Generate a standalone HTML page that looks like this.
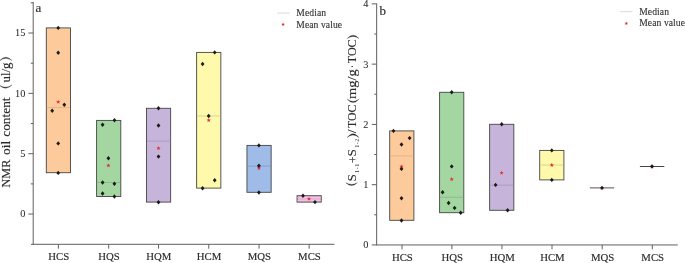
<!DOCTYPE html>
<html><head><meta charset="utf-8"><title>Box plots</title>
<style>
html,body{margin:0;padding:0;background:#fff;}
body{width:685px;height:263px;overflow:hidden;font-family:"Liberation Serif",serif;}
svg{display:block;will-change:transform;}
text{font-family:"Liberation Serif",serif;fill:#2a2a2a;stroke:#2a2a2a;stroke-width:0.16px;paint-order:stroke;}
.tk{font-size:10.3px;stroke-width:0.05px;}
.xl{font-size:10.75px;}
.pl{font-size:13px;}
.lg{font-size:9.6px;fill:#333;stroke:#333;stroke-width:0.12px;}
.yl{font-size:12.3px;}
.yl2{font-size:13.2px;stroke-width:0.1px;}
.sub{font-size:6.2px;stroke-width:0;fill:#3a3a3a;}
</style></head>
<body>
<svg width="685" height="263" viewBox="0 0 685 263">
<rect width="685" height="263" fill="#fff"/>
<g id="chartA">
<rect x="46.30" y="27.90" width="24.20" height="144.80" fill="#fdcb9b" stroke="#454545" stroke-width="0.9"/><line x1="46.80" x2="70.00" y1="107.60" y2="107.60" stroke="#dfad84" stroke-width="0.8"/>
<rect x="96.60" y="120.40" width="24.20" height="76.10" fill="#a3d6a0" stroke="#454545" stroke-width="0.9"/><line x1="97.10" x2="120.30" y1="182.50" y2="182.50" stroke="#86b783" stroke-width="0.8"/>
<rect x="146.45" y="108.30" width="24.20" height="93.80" fill="#c6b4da" stroke="#454545" stroke-width="0.9"/><line x1="146.95" x2="170.15" y1="141.10" y2="141.10" stroke="#a995bc" stroke-width="0.8"/>
<rect x="196.65" y="52.40" width="24.20" height="135.70" fill="#fff9ab" stroke="#454545" stroke-width="0.9"/><line x1="197.15" x2="220.35" y1="116.00" y2="116.00" stroke="#d2cc8c" stroke-width="0.8"/>
<rect x="246.95" y="145.40" width="24.20" height="46.90" fill="#9fbbe8" stroke="#454545" stroke-width="0.9"/><line x1="247.45" x2="270.65" y1="166.10" y2="166.10" stroke="#8099c2" stroke-width="0.8"/>
<rect x="297.05" y="195.70" width="24.20" height="6.40" fill="#e9b3dc" stroke="#454545" stroke-width="0.9"/>
<line x1="297.5" x2="320.8" y1="197.4" y2="197.4" stroke="#efc8e5" stroke-width="0.8"/>
<line x1="297.5" x2="320.8" y1="200.6" y2="200.6" stroke="#efc8e5" stroke-width="0.8"/>
<polygon points="58.20,99.65 58.76,101.13 60.34,101.20 59.10,102.19 59.52,103.72 58.20,102.85 56.88,103.72 57.30,102.19 56.06,101.20 57.64,101.13" fill="#e42d32"/>
<polygon points="108.40,163.25 108.96,164.73 110.54,164.80 109.30,165.79 109.72,167.32 108.40,166.45 107.08,167.32 107.50,165.79 106.26,164.80 107.84,164.73" fill="#e42d32"/>
<polygon points="158.50,145.95 159.06,147.43 160.64,147.50 159.40,148.49 159.82,150.02 158.50,149.15 157.18,150.02 157.60,148.49 156.36,147.50 157.94,147.43" fill="#e42d32"/>
<polygon points="208.70,118.05 209.26,119.53 210.84,119.60 209.60,120.59 210.02,122.12 208.70,121.25 207.38,122.12 207.80,120.59 206.56,119.60 208.14,119.53" fill="#e42d32"/>
<polygon points="258.90,166.05 259.46,167.53 261.04,167.60 259.80,168.59 260.22,170.12 258.90,169.25 257.58,170.12 258.00,168.59 256.76,167.60 258.34,167.53" fill="#e42d32"/>
<polygon points="309.00,196.65 309.56,198.13 311.14,198.20 309.90,199.19 310.32,200.72 309.00,199.85 307.68,200.72 308.10,199.19 306.86,198.20 308.44,198.13" fill="#e42d32"/>
<path d="M58.20 25.70L60.10 27.90L58.20 30.10L56.30 27.90Z" fill="#1a1a1a"/>
<path d="M58.20 50.60L60.10 52.80L58.20 55.00L56.30 52.80Z" fill="#1a1a1a"/>
<path d="M64.30 102.60L66.20 104.80L64.30 107.00L62.40 104.80Z" fill="#1a1a1a"/>
<path d="M52.20 108.60L54.10 110.80L52.20 113.00L50.30 110.80Z" fill="#1a1a1a"/>
<path d="M58.20 141.20L60.10 143.40L58.20 145.60L56.30 143.40Z" fill="#1a1a1a"/>
<path d="M58.20 170.70L60.10 172.90L58.20 175.10L56.30 172.90Z" fill="#1a1a1a"/>
<path d="M114.50 118.10L116.40 120.30L114.50 122.50L112.60 120.30Z" fill="#1a1a1a"/>
<path d="M102.60 122.60L104.50 124.80L102.60 127.00L100.70 124.80Z" fill="#1a1a1a"/>
<path d="M108.40 156.10L110.30 158.30L108.40 160.50L106.50 158.30Z" fill="#1a1a1a"/>
<path d="M102.60 180.30L104.50 182.50L102.60 184.70L100.70 182.50Z" fill="#1a1a1a"/>
<path d="M114.40 181.50L116.30 183.70L114.40 185.90L112.50 183.70Z" fill="#1a1a1a"/>
<path d="M102.60 191.30L104.50 193.50L102.60 195.70L100.70 193.50Z" fill="#1a1a1a"/>
<path d="M114.40 194.30L116.30 196.50L114.40 198.70L112.50 196.50Z" fill="#1a1a1a"/>
<path d="M158.50 106.10L160.40 108.30L158.50 110.50L156.60 108.30Z" fill="#1a1a1a"/>
<path d="M158.50 123.30L160.40 125.50L158.50 127.70L156.60 125.50Z" fill="#1a1a1a"/>
<path d="M158.50 154.40L160.40 156.60L158.50 158.80L156.60 156.60Z" fill="#1a1a1a"/>
<path d="M158.50 200.10L160.40 202.30L158.50 204.50L156.60 202.30Z" fill="#1a1a1a"/>
<path d="M214.70 50.20L216.60 52.40L214.70 54.60L212.80 52.40Z" fill="#1a1a1a"/>
<path d="M202.60 61.80L204.50 64.00L202.60 66.20L200.70 64.00Z" fill="#1a1a1a"/>
<path d="M208.70 113.80L210.60 116.00L208.70 118.20L206.80 116.00Z" fill="#1a1a1a"/>
<path d="M214.70 178.00L216.60 180.20L214.70 182.40L212.80 180.20Z" fill="#1a1a1a"/>
<path d="M202.60 186.00L204.50 188.20L202.60 190.40L200.70 188.20Z" fill="#1a1a1a"/>
<path d="M258.90 143.20L260.80 145.40L258.90 147.60L257.00 145.40Z" fill="#1a1a1a"/>
<path d="M258.90 163.60L260.80 165.80L258.90 168.00L257.00 165.80Z" fill="#1a1a1a"/>
<path d="M258.90 190.30L260.80 192.50L258.90 194.70L257.00 192.50Z" fill="#1a1a1a"/>
<path d="M303.00 193.50L304.90 195.70L303.00 197.90L301.10 195.70Z" fill="#1a1a1a"/>
<path d="M315.00 199.90L316.90 202.10L315.00 204.30L313.10 202.10Z" fill="#1a1a1a"/>
<path d="M33.2 1.9V244.8" stroke="#606060" stroke-width="1" fill="none"/>
<path d="M31.000000000000004 244.3H334.5" stroke="#606060" stroke-width="1" fill="none"/>
<line x1="28.400000000000002" x2="33.2" y1="214.05" y2="214.05" stroke="#606060" stroke-width="1"/>
<line x1="28.400000000000002" x2="33.2" y1="153.70" y2="153.70" stroke="#606060" stroke-width="1"/>
<line x1="28.400000000000002" x2="33.2" y1="93.35" y2="93.35" stroke="#606060" stroke-width="1"/>
<line x1="28.400000000000002" x2="33.2" y1="33.00" y2="33.00" stroke="#606060" stroke-width="1"/>
<line x1="30.800000000000004" x2="33.2" y1="183.88" y2="183.88" stroke="#606060" stroke-width="1"/>
<line x1="30.800000000000004" x2="33.2" y1="123.53" y2="123.53" stroke="#606060" stroke-width="1"/>
<line x1="30.800000000000004" x2="33.2" y1="63.18" y2="63.18" stroke="#606060" stroke-width="1"/>
<line x1="30.800000000000004" x2="33.2" y1="2.83" y2="2.83" stroke="#606060" stroke-width="1"/>
<line x1="58.40" x2="58.40" y1="244.3" y2="248.70000000000002" stroke="#606060" stroke-width="1"/>
<line x1="108.70" x2="108.70" y1="244.3" y2="248.70000000000002" stroke="#606060" stroke-width="1"/>
<line x1="158.55" x2="158.55" y1="244.3" y2="248.70000000000002" stroke="#606060" stroke-width="1"/>
<line x1="208.75" x2="208.75" y1="244.3" y2="248.70000000000002" stroke="#606060" stroke-width="1"/>
<line x1="259.05" x2="259.05" y1="244.3" y2="248.70000000000002" stroke="#606060" stroke-width="1"/>
<line x1="309.15" x2="309.15" y1="244.3" y2="248.70000000000002" stroke="#606060" stroke-width="1"/>
<text x="25.3" y="217.35" text-anchor="end" class="tk">0</text>
<text x="25.3" y="157.00" text-anchor="end" class="tk">5</text>
<text x="25.3" y="96.65" text-anchor="end" class="tk">10</text>
<text x="25.3" y="36.30" text-anchor="end" class="tk">15</text>
<text x="58.70" y="260.0" text-anchor="middle" class="xl">HCS</text>
<text x="109.00" y="260.0" text-anchor="middle" class="xl">HQS</text>
<text x="158.85" y="260.0" text-anchor="middle" class="xl">HQM</text>
<text x="209.05" y="260.0" text-anchor="middle" class="xl">HCM</text>
<text x="259.35" y="260.0" text-anchor="middle" class="xl">MQS</text>
<text x="309.45" y="260.0" text-anchor="middle" class="xl">MCS</text>
<text x="35.4" y="12.1" class="pl">a</text>
<line x1="277" x2="289.8" y1="13.1" y2="13.1" stroke="#d9d9d9" stroke-width="1"/>
<polygon points="283.10,22.60 283.57,23.85 284.91,23.91 283.86,24.75 284.22,26.04 283.10,25.30 281.98,26.04 282.34,24.75 281.29,23.91 282.63,23.85" fill="#e42d32"/>
<text x="296.3" y="16.0" class="lg" textLength="29.8" lengthAdjust="spacing">Median</text>
<text x="296.3" y="27.7" class="lg" textLength="45.8" lengthAdjust="spacing">Mean value</text>
<text transform="translate(9.90 187.50) rotate(-90)" class="yl" textLength="27.90" lengthAdjust="spacingAndGlyphs" >NMR</text>
<text transform="translate(9.90 155.00) rotate(-90)" class="yl" textLength="14.20" lengthAdjust="spacingAndGlyphs" >oil</text>
<text transform="translate(9.90 136.80) rotate(-90)" class="yl" textLength="39.40" lengthAdjust="spacingAndGlyphs" >content</text>
<text transform="translate(9.90 82.50) rotate(-90)" class="yl" textLength="19.90" lengthAdjust="spacingAndGlyphs" >ul/g</text>
<path d="M-0.5 85.3 Q5.6 91.3 12.0 85.0 Q5.6 89.3 -0.5 85.3Z" fill="#2a2a2a" stroke="#2a2a2a" stroke-width="0.3"/>
<path d="M-0.5 60.8 Q5.6 54.0 12.1 60.6 Q5.6 56.0 -0.5 60.8Z" fill="#2a2a2a" stroke="#2a2a2a" stroke-width="0.3"/>
</g>
<g id="chartB">
<rect x="389.70" y="130.90" width="24.20" height="89.40" fill="#fdcb9b" stroke="#454545" stroke-width="0.9"/><line x1="390.20" x2="413.40" y1="155.90" y2="155.90" stroke="#dfad84" stroke-width="0.8"/>
<rect x="439.60" y="92.30" width="24.20" height="120.40" fill="#a3d6a0" stroke="#454545" stroke-width="0.9"/><line x1="440.10" x2="463.30" y1="197.30" y2="197.30" stroke="#86b783" stroke-width="0.8"/>
<rect x="489.65" y="124.30" width="24.20" height="86.00" fill="#c6b4da" stroke="#454545" stroke-width="0.9"/><line x1="490.15" x2="513.35" y1="185.20" y2="185.20" stroke="#a995bc" stroke-width="0.8"/>
<rect x="539.70" y="150.40" width="24.20" height="29.50" fill="#fff9ab" stroke="#454545" stroke-width="0.9"/><line x1="540.20" x2="563.40" y1="165.10" y2="165.10" stroke="#d2cc8c" stroke-width="0.8"/>
<line x1="589.8" x2="614.2" y1="187.9" y2="187.9" stroke="#555" stroke-width="1"/>
<line x1="639.9" x2="664.3" y1="166.5" y2="166.5" stroke="#444" stroke-width="1"/>
<polygon points="401.50,164.15 402.06,165.63 403.64,165.70 402.40,166.69 402.82,168.22 401.50,167.35 400.18,168.22 400.60,166.69 399.36,165.70 400.94,165.63" fill="#e42d32"/>
<polygon points="451.70,176.95 452.26,178.43 453.84,178.50 452.60,179.49 453.02,181.02 451.70,180.15 450.38,181.02 450.80,179.49 449.56,178.50 451.14,178.43" fill="#e42d32"/>
<polygon points="501.60,170.65 502.16,172.13 503.74,172.20 502.50,173.19 502.92,174.72 501.60,173.85 500.28,174.72 500.70,173.19 499.46,172.20 501.04,172.13" fill="#e42d32"/>
<polygon points="551.80,162.85 552.36,164.33 553.94,164.40 552.70,165.39 553.12,166.92 551.80,166.05 550.48,166.92 550.90,165.39 549.66,164.40 551.24,164.33" fill="#e42d32"/>
<polygon points="602.00,185.65 602.56,187.13 604.14,187.20 602.90,188.19 603.32,189.72 602.00,188.85 600.68,189.72 601.10,188.19 599.86,187.20 601.44,187.13" fill="#e42d32"/>
<polygon points="652.00,164.25 652.56,165.73 654.14,165.80 652.90,166.79 653.32,168.32 652.00,167.45 650.68,168.32 651.10,166.79 649.86,165.80 651.44,165.73" fill="#e42d32"/>
<path d="M393.50 128.70L395.40 130.90L393.50 133.10L391.60 130.90Z" fill="#1a1a1a"/>
<path d="M409.60 135.90L411.50 138.10L409.60 140.30L407.70 138.10Z" fill="#1a1a1a"/>
<path d="M401.50 142.30L403.40 144.50L401.50 146.70L399.60 144.50Z" fill="#1a1a1a"/>
<path d="M401.50 166.70L403.40 168.90L401.50 171.10L399.60 168.90Z" fill="#1a1a1a"/>
<path d="M401.50 196.10L403.40 198.30L401.50 200.50L399.60 198.30Z" fill="#1a1a1a"/>
<path d="M401.50 218.30L403.40 220.50L401.50 222.70L399.60 220.50Z" fill="#1a1a1a"/>
<path d="M451.70 90.10L453.60 92.30L451.70 94.50L449.80 92.30Z" fill="#1a1a1a"/>
<path d="M451.70 164.20L453.60 166.40L451.70 168.60L449.80 166.40Z" fill="#1a1a1a"/>
<path d="M442.60 190.00L444.50 192.20L442.60 194.40L440.70 192.20Z" fill="#1a1a1a"/>
<path d="M448.60 200.80L450.50 203.00L448.60 205.20L446.70 203.00Z" fill="#1a1a1a"/>
<path d="M454.60 205.70L456.50 207.90L454.60 210.10L452.70 207.90Z" fill="#1a1a1a"/>
<path d="M460.70 210.50L462.60 212.70L460.70 214.90L458.80 212.70Z" fill="#1a1a1a"/>
<path d="M501.70 122.10L503.60 124.30L501.70 126.50L499.80 124.30Z" fill="#1a1a1a"/>
<path d="M495.60 182.70L497.50 184.90L495.60 187.10L493.70 184.90Z" fill="#1a1a1a"/>
<path d="M507.60 208.10L509.50 210.30L507.60 212.50L505.70 210.30Z" fill="#1a1a1a"/>
<path d="M551.80 148.20L553.70 150.40L551.80 152.60L549.90 150.40Z" fill="#1a1a1a"/>
<path d="M551.80 177.70L553.70 179.90L551.80 182.10L549.90 179.90Z" fill="#1a1a1a"/>
<path d="M602.00 185.70L603.90 187.90L602.00 190.10L600.10 187.90Z" fill="#1a1a1a"/>
<path d="M652.00 164.30L653.90 166.50L652.00 168.70L650.10 166.50Z" fill="#1a1a1a"/>
<path d="M376.65 3.4V245.45" stroke="#606060" stroke-width="1" fill="none"/>
<path d="M376.65 244.95H677.8" stroke="#606060" stroke-width="1" fill="none"/>
<line x1="371.75" x2="376.65" y1="244.95" y2="244.95" stroke="#606060" stroke-width="1"/>
<line x1="371.75" x2="376.65" y1="184.68" y2="184.68" stroke="#606060" stroke-width="1"/>
<line x1="371.75" x2="376.65" y1="124.41" y2="124.41" stroke="#606060" stroke-width="1"/>
<line x1="371.75" x2="376.65" y1="64.14" y2="64.14" stroke="#606060" stroke-width="1"/>
<line x1="371.75" x2="376.65" y1="3.87" y2="3.87" stroke="#606060" stroke-width="1"/>
<line x1="374.25" x2="376.65" y1="214.81" y2="214.81" stroke="#606060" stroke-width="1"/>
<line x1="374.25" x2="376.65" y1="154.54" y2="154.54" stroke="#606060" stroke-width="1"/>
<line x1="374.25" x2="376.65" y1="94.27" y2="94.27" stroke="#606060" stroke-width="1"/>
<line x1="374.25" x2="376.65" y1="34.00" y2="34.00" stroke="#606060" stroke-width="1"/>
<line x1="402.00" x2="402.00" y1="244.95" y2="249.35" stroke="#606060" stroke-width="1"/>
<line x1="451.90" x2="451.90" y1="244.95" y2="249.35" stroke="#606060" stroke-width="1"/>
<line x1="501.95" x2="501.95" y1="244.95" y2="249.35" stroke="#606060" stroke-width="1"/>
<line x1="552.00" x2="552.00" y1="244.95" y2="249.35" stroke="#606060" stroke-width="1"/>
<line x1="602.20" x2="602.20" y1="244.95" y2="249.35" stroke="#606060" stroke-width="1"/>
<line x1="652.30" x2="652.30" y1="244.95" y2="249.35" stroke="#606060" stroke-width="1"/>
<text x="368.5" y="248.45" text-anchor="end" class="tk">0</text>
<text x="368.5" y="188.18" text-anchor="end" class="tk">1</text>
<text x="368.5" y="127.91" text-anchor="end" class="tk">2</text>
<text x="368.5" y="67.64" text-anchor="end" class="tk">3</text>
<text x="368.5" y="7.37" text-anchor="end" class="tk">4</text>
<text x="402.40" y="260.8" text-anchor="middle" class="xl">HCS</text>
<text x="452.30" y="260.8" text-anchor="middle" class="xl">HQS</text>
<text x="502.35" y="260.8" text-anchor="middle" class="xl">HQM</text>
<text x="552.40" y="260.8" text-anchor="middle" class="xl">HCM</text>
<text x="602.60" y="260.8" text-anchor="middle" class="xl">MQS</text>
<text x="652.70" y="260.8" text-anchor="middle" class="xl">MCS</text>
<text x="379.6" y="14.5" class="pl">b</text>
<line x1="620" x2="632.5" y1="11.7" y2="11.7" stroke="#d9d9d9" stroke-width="1"/>
<polygon points="626.30,21.50 626.77,22.75 628.11,22.81 627.06,23.65 627.42,24.94 626.30,24.20 625.18,24.94 625.54,23.65 624.49,22.81 625.83,22.75" fill="#e42d32"/>
<text x="639.2" y="15.0" class="lg" textLength="29.8" lengthAdjust="spacing">Median</text>
<text x="639.2" y="26.3" class="lg" textLength="45.8" lengthAdjust="spacing">Mean value</text>
<path d="M345.9 182.7 Q351.6 188.3 357.3 182.7 Q351.6 186.1 345.9 182.7Z" fill="#2a2a2a" stroke="#2a2a2a" stroke-width="0.3"/>
<text transform="translate(356.10 181.60) rotate(-90)" class="yl2" textLength="7.40" lengthAdjust="spacingAndGlyphs" >S</text>
<text transform="translate(358.80 172.90) rotate(-90)" class="sub" textLength="9.20" lengthAdjust="spacing" >1-1</text>
<text transform="translate(357.30 162.90) rotate(-90)" class="yl2" textLength="6.60" lengthAdjust="spacingAndGlyphs" >+</text>
<text transform="translate(356.10 156.60) rotate(-90)" class="yl2" textLength="7.40" lengthAdjust="spacingAndGlyphs" >S</text>
<text transform="translate(358.80 147.80) rotate(-90)" class="sub" textLength="9.10" lengthAdjust="spacing" >1-2</text>
<path d="M347.1 137.5 Q353.1 129.7 359.1 137.7 Q353.1 132.3 347.1 137.5Z" fill="#2a2a2a" stroke="#2a2a2a" stroke-width="0.25"/>
<text transform="translate(356.10 133.30) rotate(-90)" class="yl2" textLength="3.70" lengthAdjust="spacing" >/</text>
<text transform="translate(356.10 128.10) rotate(-90)" class="yl2" textLength="23.50" lengthAdjust="spacingAndGlyphs" >TOC</text>
<path d="M347.1 99.0 Q353.1 106.2 359.1 99.0 Q353.1 103.8 347.1 99.0Z" fill="#2a2a2a" stroke="#2a2a2a" stroke-width="0.25"/>
<text transform="translate(356.10 99.00) rotate(-90)" class="yl2" textLength="29.80" lengthAdjust="spacingAndGlyphs" >mg/g</text>
<text transform="translate(356.10 67.90) rotate(-90)" class="yl2" textLength="3.00" lengthAdjust="spacingAndGlyphs" >&#183;</text>
<text transform="translate(356.10 63.20) rotate(-90)" class="yl2" textLength="23.70" lengthAdjust="spacingAndGlyphs" >TOC</text>
<path d="M347.1 38.6 Q353.1 31.8 359.1 38.6 Q353.1 34.2 347.1 38.6Z" fill="#2a2a2a" stroke="#2a2a2a" stroke-width="0.25"/>
</g>
</svg>
</body></html>
